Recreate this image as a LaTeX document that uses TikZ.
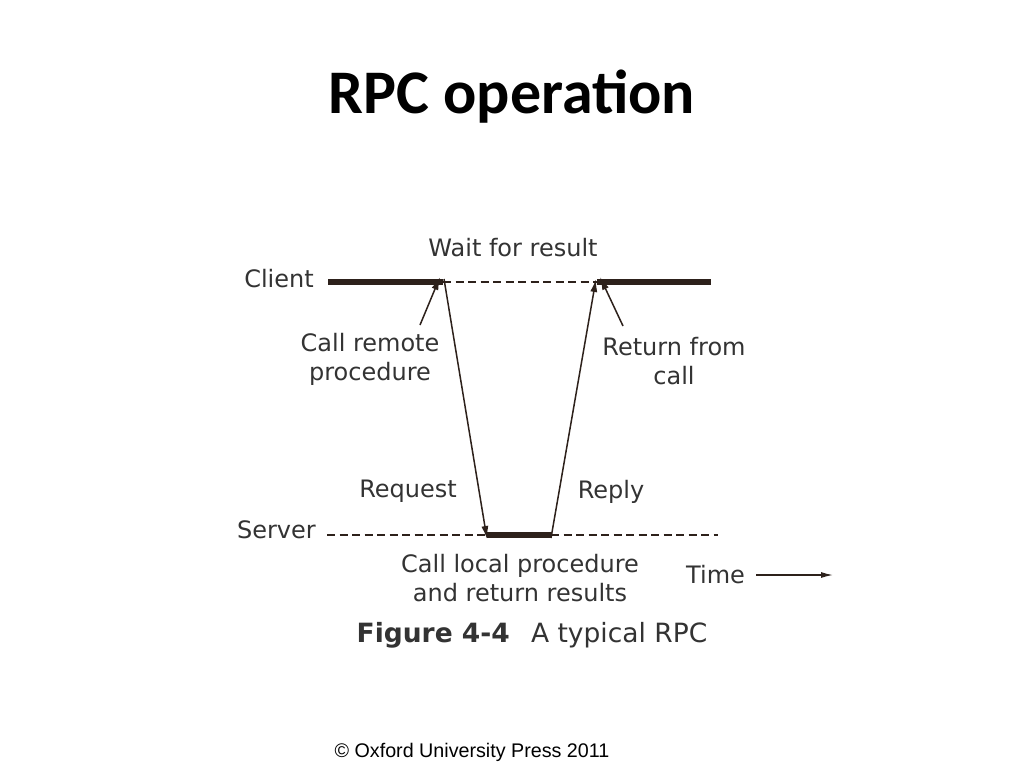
\documentclass[tikz,border=0pt]{standalone}
\usepackage{fontspec}
\setmainfont{Carlito}
\setsansfont{DejaVu Sans}
\newfontfamily\footfont{Liberation Sans}
\usetikzlibrary{arrows.meta, positioning}
\definecolor{inkclr}{RGB}{45,33,27}

\begin{document}
\begin{tikzpicture}[x=1pt,y=-1pt,font=\sffamily\fontsize{24}{29}\selectfont,>={Latex[length=13pt,width=7pt]}]

	\tikzset{lbl/.style={text=black!80, inner sep=0pt, align=center},
		busy/.style={draw=inkclr, line width=6pt},
		idle/.style={draw=inkclr, line width=1.6pt, dash pattern=on 8pt off 4.5pt},
		msg/.style={draw=inkclr, line width=1.5pt, ->},
		hint/.style={draw=inkclr, line width=1.5pt, ->}}

	\useasboundingbox[fill=white] (0,0) rectangle (1024,768);

	\node[font=\rmfamily\bfseries\fontsize{62}{66}\selectfont] (title) at (512,97) {RPC operation};

	% time lines
	\coordinate (c0) at (328,282);
	\coordinate (c1) at (443,282);
	\coordinate (c2) at (597,282);
	\coordinate (c3) at (711,282);
	\coordinate (s0) at (327,535);
	\coordinate (s1) at (487,535);
	\coordinate (s2) at (551,535);
	\coordinate (s3) at (718,535);

	\node[lbl, anchor=east] (client) at (314,279) {Client};
	\node[lbl, anchor=east] (server) at (316,530) {Server};

	\draw[busy] (c0) -- (c1);
	\draw[busy] (c2) -- (c3);
	\draw[idle] (c1) -- (c2);
	\draw[idle] (s0) -- (s1);
	\draw[busy] (s1) -- (s2);
	\draw[idle] (s2) -- (s3);

	\node[lbl] (wait) at (513,248) {Wait for result};
	\node[lbl] (callremote) at (370,359) {Call remote\\procedure};
	\node[lbl] (return) at (674,361) {Return from\\call};
	\node[lbl] (request) at (408,491) {Request};
	\node[lbl] (reply) at (611,492) {Reply};
	\node[lbl] (local) at (520,578) {Call local procedure\\and return results};
	\node[lbl, anchor=west] (time) at (686,575) {Time};
	\coordinate (timeend) at (833,575);
	\coordinate (p1) at (420,325);
	\coordinate (p2) at (623,326);

	% messages
	\draw[msg] ([xshift=1pt,yshift=3pt]c1) -- ([yshift=-4pt]s1);
	\draw[msg] ([yshift=-3pt]s2) -- ([xshift=-1pt,yshift=3pt]c2);
	\draw[hint] (p1) -- ([xshift=-3pt,yshift=5pt]c1);
	\draw[hint] (p2) -- ([xshift=3pt,yshift=5pt]c2);
	\draw[draw=inkclr, line width=1.3pt, -{Latex[length=12pt,width=6pt]}] ([xshift=11pt]time.east) -- (timeend);

	\node[lbl, font=\sffamily\fontsize{26.5}{30}\selectfont] (caption) at (532,635) {\textbf{Figure 4-4}\hspace{0.8em}A typical RPC};
	\node[font=\footfont\fontsize{19.7}{24}\selectfont] (press) at (472,752) {© Oxford University Press 2011};

\end{tikzpicture}
\end{document}
